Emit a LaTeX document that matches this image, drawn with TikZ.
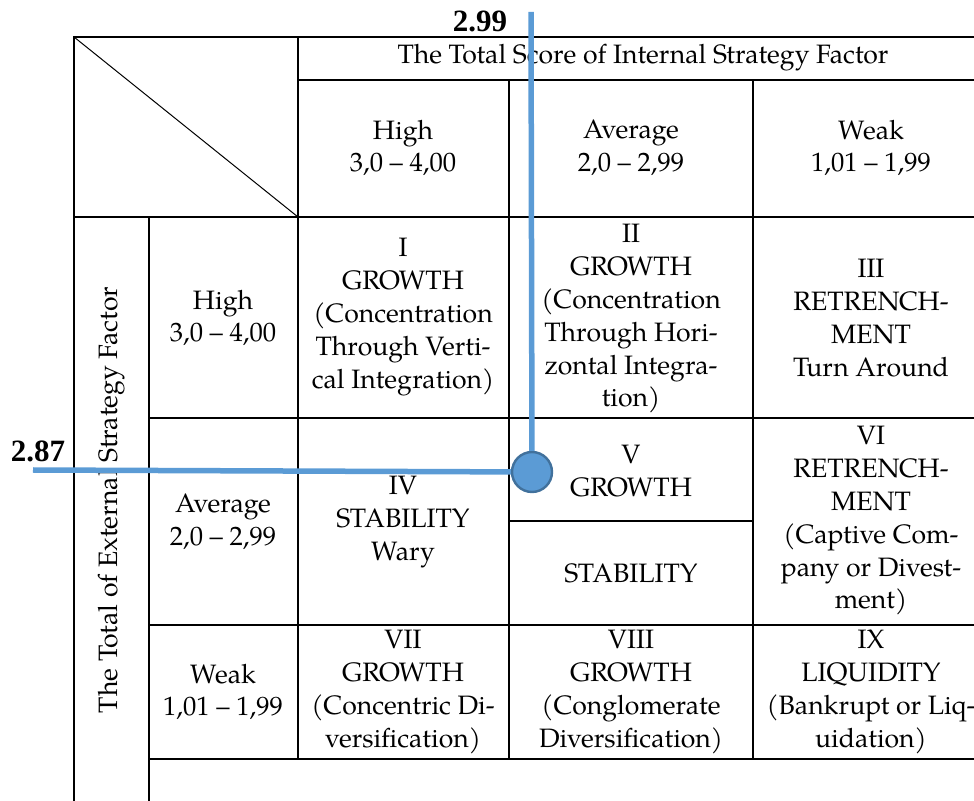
\documentclass[tikz,border=0pt]{standalone}
\usepackage{fontspec}
\setmainfont{TeX Gyre Pagella}
\newfontfamily\numfont{Liberation Serif}
\usetikzlibrary{positioning}
\definecolor{markblue}{RGB}{91,155,213}
\definecolor{markedge}{RGB}{65,113,156}

\begin{document}
\begin{tikzpicture}[x=0.5pt,y=-0.5pt,
    grid/.style={line width=1pt},
    cell/.style={align=center,font=\fontsize{13.3}{16.4}\selectfont,inner sep=0pt},
    score/.style={font=\numfont\bfseries\fontsize{15.5}{18}\selectfont,inner sep=0pt},
    guide/.style={markblue,line width=2.75pt},
    point/.style={circle,fill=markblue,draw=markedge,line width=1.2pt,minimum size=20pt,inner sep=0pt}]
    \useasboundingbox (0,0) rectangle (974,801);
    \clip (0,0) rectangle (974,801);
    % table frame
    \draw[grid] (74,801) -- (74,37) -- (995,37);
    \draw[grid] (298,37) -- (298,759);
    \draw[grid] (298,80) -- (995,80);
    \draw[grid] (74,217) -- (995,217);
    \draw[grid] (149,217) -- (149,801);
    \draw[grid] (509,80) -- (509,759);
    \draw[grid] (753,80) -- (753,759);
    \foreach \y in {418,625,759}
      \draw[grid] (149,\y) -- (995,\y);
    \draw[grid] (509,521) -- (753,521);
    \draw[line width=0.5pt] (74,37) -- (298,217);
    % headers
    \node[cell] (title)   at (643,58)  {The Total Score of Internal Strategy Factor};
    \node[cell] (colHigh) at (403,148) {High\\3,0 -- 4,00};
    \node[cell] (colAvg)  at (631,148) {Average\\2,0 -- 2,99};
    \node[cell] (colWeak) at (871,148) {Weak\\1,01 -- 1,99};
    \node[cell,rotate=90] (extTitle) at (112,500) {The Total of External Strategy Factor};
    \node[cell] (rowHigh) at (223,318) {High\\3,0 -- 4,00};
    \node[cell] (rowAvg)  at (223,522) {Average\\2,0 -- 2,99};
    \node[cell] (rowWeak) at (223,692) {Weak\\1,01 -- 1,99};
    % cells
    \node[cell] (c_I)    at (403,317) {I\\GROWTH\\(Concentration\\Through Verti-\\cal Integration)};
    \node[cell] (c_II)   at (631,319) {II\\GROWTH\\(Concentration\\Through Hori-\\zontal Integra-\\tion)};
    \node[cell] (c_III)  at (871,318) {III\\RETRENCH-\\MENT\\Turn Around};
    \node[cell] (c_IV)   at (403,522) {IV\\STABILITY\\Wary};
    \node[cell] (c_V)    at (631,471) {V\\GROWTH};
    \node[cell] (c_Vb)   at (631,573) {STABILITY};
    \node[cell] (c_VI)   at (871,521) {VI\\RETRENCH-\\MENT\\(Captive Com-\\pany or Divest-\\ment)};
    \node[cell] (c_VII)  at (403,692) {VII\\GROWTH\\(Concentric Di-\\versification)};
    \node[cell] (c_VIII) at (631,692) {VIII\\GROWTH\\(Conglomerate\\Diversification)};
    \node[cell] (c_IX)   at (871,692) {IX\\LIQUIDITY\\(Bankrupt or Liq-\\uidation)};
    % position of the firm
    \node[point] (pt) at (532,472) {};
    \coordinate (topEnd)  at (531,12);
    \coordinate (leftEnd) at (33,470);
    \draw[guide] (topEnd) -- (pt);
    \draw[guide] (leftEnd) -- (pt);
    \node[score] (ifeScore) at (480,21)  {2.99};
    \node[score] (efeScore) at (38,451)  {2.87};
\end{tikzpicture}
\end{document}
